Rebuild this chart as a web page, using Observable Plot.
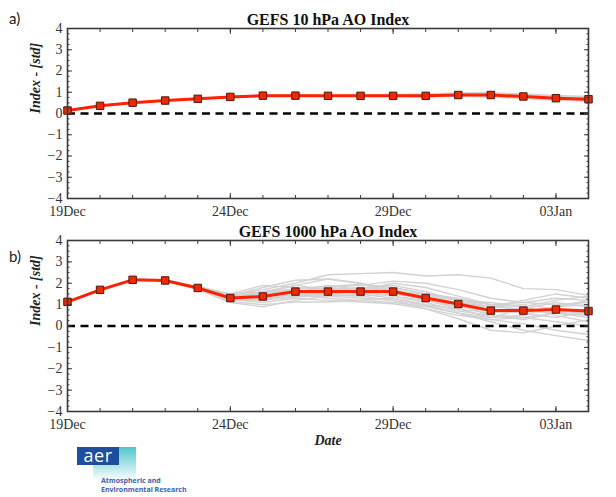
<!DOCTYPE html>
<html>
<head>
<meta charset="utf-8">
<script src="https://cdn.jsdelivr.net/npm/d3@7"></script>
<script src="https://cdn.jsdelivr.net/npm/@observablehq/plot@0.6"></script>
<style>
  body { margin: 0; background: #fff; }
  #wrap { position: relative; width: 616px; height: 497px; overflow: hidden; }
  .pan { position: absolute; left: 0; }
  .pan svg text { font-family: 'Liberation Serif', 'DejaVu Serif', serif; }
  .lab { position: absolute; font-family: Lato, "Open Sans", sans-serif; font-size: 15px; color: #222; }
  #logo-grad { position: absolute; left: 93px; top: 447px; width: 43px; height: 34px;
    background: linear-gradient(to bottom, rgba(70,195,200,0.95), rgba(255,255,255,0)); }
  #logo-box { position: absolute; left: 77px; top: 447px; width: 42px; height: 18px; background: #1d4f9d;
    color: #fff; font-family: "Open Sans", sans-serif; font-size: 18px; line-height: 16px; text-align: center; letter-spacing: 0.5px; }
  #logo-txt { position: absolute; left: 101px; top: 477px; font-family: "Open Sans", sans-serif; font-weight: bold;
    font-size: 7px; line-height: 8.5px; color: #3a62b0; white-space: nowrap; }
</style>
</head>
<body>
<div id="wrap">
  <div class="pan" id="pa" style="top:0"></div>
  <div class="pan" id="pb" style="top:228px"></div>
  <div class="lab" style="left:9px; top:9px">a)</div>
  <div class="lab" style="left:9px; top:247px">b)</div>
  <div id="logo-grad"></div>
  <div id="logo-box">aer</div>
  <div id="logo-txt">Atmospheric and<br>Environmental Research</div>
</div>
<script>
// ---- data ----
const dates = ["2016-12-19","2016-12-20","2016-12-21","2016-12-22","2016-12-23","2016-12-24","2016-12-25","2016-12-26","2016-12-27","2016-12-28","2016-12-29","2016-12-30","2016-12-31","2017-01-01","2017-01-02","2017-01-03","2017-01-04"];
const majorDates = ["2016-12-19","2016-12-24","2016-12-29","2017-01-03"];
const yTicks = [-4,-3,-2,-1,0,1,2,3,4];
const titleA = "GEFS 10 hPa AO Index";
const titleB = "GEFS 1000 hPa AO Index";
const yLabel = "Index - [std]";
const xLabel = "Date";

const meanA = [0.14,0.36,0.51,0.61,0.69,0.78,0.84,0.84,0.83,0.83,0.83,0.83,0.87,0.87,0.80,0.72,0.67];
const membersA = [
  [0.14,0.36,0.51,0.61,0.70,0.79,0.86,0.87,0.85,0.86,0.88,0.92,0.97,0.98,0.92,0.85,0.80],
  [0.14,0.36,0.51,0.61,0.68,0.77,0.82,0.81,0.82,0.81,0.80,0.79,0.80,0.78,0.70,0.62,0.57],
  [0.14,0.36,0.51,0.61,0.69,0.78,0.85,0.85,0.84,0.85,0.86,0.88,0.93,0.95,0.88,0.80,0.74],
  [0.14,0.36,0.51,0.61,0.69,0.78,0.83,0.83,0.83,0.82,0.82,0.80,0.83,0.83,0.76,0.68,0.62],
  [0.14,0.36,0.51,0.61,0.70,0.79,0.85,0.85,0.84,0.84,0.85,0.86,0.90,0.92,0.84,0.76,0.70],
  [0.14,0.36,0.51,0.61,0.68,0.77,0.83,0.82,0.82,0.83,0.81,0.82,0.85,0.86,0.78,0.72,0.66],
  [0.14,0.36,0.51,0.61,0.69,0.78,0.84,0.85,0.85,0.84,0.84,0.84,0.88,0.90,0.85,0.78,0.72],
  [0.14,0.36,0.51,0.61,0.69,0.78,0.83,0.83,0.83,0.82,0.83,0.82,0.82,0.80,0.74,0.66,0.60]
];

const meanB = [1.13,1.69,2.16,2.13,1.78,1.31,1.38,1.61,1.61,1.61,1.61,1.31,1.03,0.72,0.72,0.77,0.70];
const membersB = [
  [1.13,1.69,2.16,2.13,1.80,1.45,1.70,2.00,2.40,2.45,2.50,2.34,2.40,2.24,1.75,1.70,1.43],
  [1.13,1.69,2.16,2.13,1.75,1.30,1.20,1.50,1.60,1.70,1.80,1.50,1.00,0.50,0.30,0.60,0.80],
  [1.13,1.69,2.16,2.13,1.85,1.50,1.60,1.90,2.20,2.00,1.60,1.20,0.80,0.40,0.50,0.90,1.20],
  [1.13,1.69,2.16,2.13,1.70,1.10,0.90,1.20,1.40,1.30,1.20,0.96,0.60,0.20,-0.20,-0.45,-0.68],
  [1.13,1.69,2.16,2.13,1.80,1.40,1.50,1.70,1.50,1.40,1.50,1.30,1.10,0.90,0.80,0.70,0.60],
  [1.13,1.69,2.16,2.13,1.78,1.25,1.10,1.30,1.20,1.12,1.04,0.80,0.34,-0.20,-0.32,0.00,0.30],
  [1.13,1.69,2.16,2.13,1.82,1.35,1.40,1.60,1.80,1.90,2.10,2.00,1.70,1.30,1.10,1.00,1.10],
  [1.13,1.69,2.16,2.13,1.76,1.20,1.30,1.50,1.30,1.20,1.30,1.00,0.80,0.60,0.70,0.80,0.50],
  [1.13,1.69,2.16,2.13,1.80,1.40,1.80,2.14,2.20,2.00,1.70,1.40,1.20,1.10,0.90,0.50,0.20],
  [1.13,1.69,2.16,2.13,1.74,1.30,1.50,1.40,1.50,1.60,1.40,1.10,0.70,0.50,0.40,0.20,0.00],
  [1.13,1.69,2.16,2.13,1.80,1.50,1.90,1.80,1.70,1.80,1.90,1.60,1.20,0.90,1.20,1.50,1.30],
  [1.13,1.69,2.16,2.13,1.76,1.15,1.00,1.12,1.12,1.20,1.10,0.90,0.60,0.30,0.10,-0.20,-0.40],
  [1.13,1.69,2.16,2.13,1.80,1.35,1.60,1.70,1.90,1.70,1.50,1.30,1.00,0.80,0.60,0.90,1.00],
  [1.13,1.69,2.16,2.13,1.78,1.30,1.40,1.50,1.40,1.50,1.60,1.50,1.30,1.00,0.90,1.20,1.40],
  [1.13,1.69,2.16,2.13,1.79,1.28,1.20,1.40,1.60,1.80,1.60,1.20,0.90,0.70,0.60,0.40,0.70],
  [1.13,1.69,2.16,2.13,1.81,1.40,1.50,1.90,1.70,1.50,1.30,1.00,0.60,0.40,0.80,1.10,0.90],
  [1.13,1.69,2.16,2.13,1.77,1.25,1.30,1.60,1.80,1.60,1.40,1.20,1.00,0.90,1.00,0.80,0.60],
  [1.13,1.69,2.16,2.13,1.79,1.32,1.45,1.55,1.50,1.70,2.00,1.80,1.40,1.00,0.70,0.60,0.50],
  [1.13,1.69,2.16,2.13,1.78,1.20,1.25,1.35,1.45,1.40,1.20,0.80,0.50,0.30,0.40,0.60,0.40],
  [1.13,1.69,2.16,2.13,1.80,1.38,1.55,1.75,1.85,1.95,1.80,1.50,1.20,1.00,1.10,1.30,1.20]
];

// ---- build ----
const parse = d3.utcParse("%Y-%m-%d");
const D = dates.map(parse);
const majorD = majorDates.map(parse);
const fmtDate = d3.utcFormat("%d%b");
const fmtY = d => d < 0 ? "\u2212" + (-d) : String(d);
const minorY = d3.range(-4, 4.001, 0.25);
const axisColor = "#3a3a3a";
const serif = "'Liberation Serif', 'DejaVu Serif', serif";

function panel(mean, members, title, opts) {
  const meanData = mean.map((v, i) => ({date: D[i], v}));
  const memData = members.flatMap((m, j) => m.map((v, i) => ({date: D[i], v, member: j})));
  const marks = [
    Plot.line(memData, {x: "date", y: "v", z: "member", stroke: "#d2d2d2", strokeWidth: 1.4}),
    Plot.ruleY([0], {stroke: "#000", strokeWidth: 2.6, strokeDasharray: "8,5.5"}),
    Plot.line(meanData, {x: "date", y: "v", stroke: "#ff2200", strokeWidth: 3}),
    Plot.dot(meanData, {x: "date", y: "v", symbol: "square", r: 4.2, fill: "#f02800", stroke: "#4a1a12", strokeWidth: 1}),
    Plot.frame({stroke: axisColor, strokeWidth: 1.6}),
    // left axis
    Plot.axisY(yTicks, {anchor: "left", tickSize: 0, tickPadding: 5, tickFormat: fmtY, label: null, fill: "#333", fontFamily: serif, fontSize: 14}),
    Plot.axisY(yTicks, {anchor: "left", tickSize: -5, fill: "none", label: null, stroke: axisColor}),
    Plot.axisY(minorY, {anchor: "left", tickSize: -2.5, fill: "none", label: null, stroke: axisColor}),
    // right axis
    Plot.axisY(yTicks, {anchor: "right", tickSize: -5, fill: "none", label: null, stroke: axisColor}),
    Plot.axisY(minorY, {anchor: "right", tickSize: -2.5, fill: "none", label: null, stroke: axisColor}),
    // bottom axis
    Plot.axisX(majorD, {anchor: "bottom", tickSize: 0, tickPadding: 8, tickFormat: fmtDate, label: null, fill: "#333", fontFamily: serif, fontSize: 14}),
    Plot.axisX(majorD, {anchor: "bottom", tickSize: -5, fill: "none", label: null, stroke: axisColor}),
    Plot.axisX(D, {anchor: "bottom", tickSize: -3, fill: "none", label: null, stroke: axisColor}),
    // top axis
    Plot.axisX(majorD, {anchor: "top", tickSize: -5, fill: "none", label: null, stroke: axisColor}),
    Plot.axisX(D, {anchor: "top", tickSize: -3, fill: "none", label: null, stroke: axisColor}),
    // title
    Plot.text([title], {frameAnchor: "top", lineAnchor: "bottom", dy: -4, fontWeight: "bold", fontSize: 16, fill: "#111", fontFamily: serif}),
    // y label
    Plot.text([yLabel], {frameAnchor: "left", rotate: -90, dx: -32, fontWeight: "bold", fontStyle: "italic", fontSize: 14, fill: "#222", fontFamily: serif})
  ];
  if (opts.xlabel) {
    marks.push(Plot.text([xLabel], {frameAnchor: "bottom", lineAnchor: "top", dy: 24, fontWeight: "bold", fontStyle: "italic", fontSize: 14, fill: "#222", fontFamily: serif}));
  }
  return Plot.plot({
    width: 616,
    height: opts.height,
    marginLeft: 67,
    marginRight: 28,
    marginTop: opts.marginTop,
    marginBottom: opts.marginBottom,
    style: {fontFamily: serif, fontSize: "14px", background: "transparent", overflow: "visible"},
    x: {type: "utc", domain: [D[0], D[D.length - 1]]},
    y: {domain: [-4, 4]},
    marks
  });
}

document.getElementById("pa").append(panel(meanA, membersA, titleA, {height: 228, marginTop: 28, marginBottom: 30}));
document.getElementById("pb").append(panel(meanB, membersB, titleB, {height: 269, marginTop: 12, marginBottom: 86, xlabel: true}));
</script>
</body>
</html>
